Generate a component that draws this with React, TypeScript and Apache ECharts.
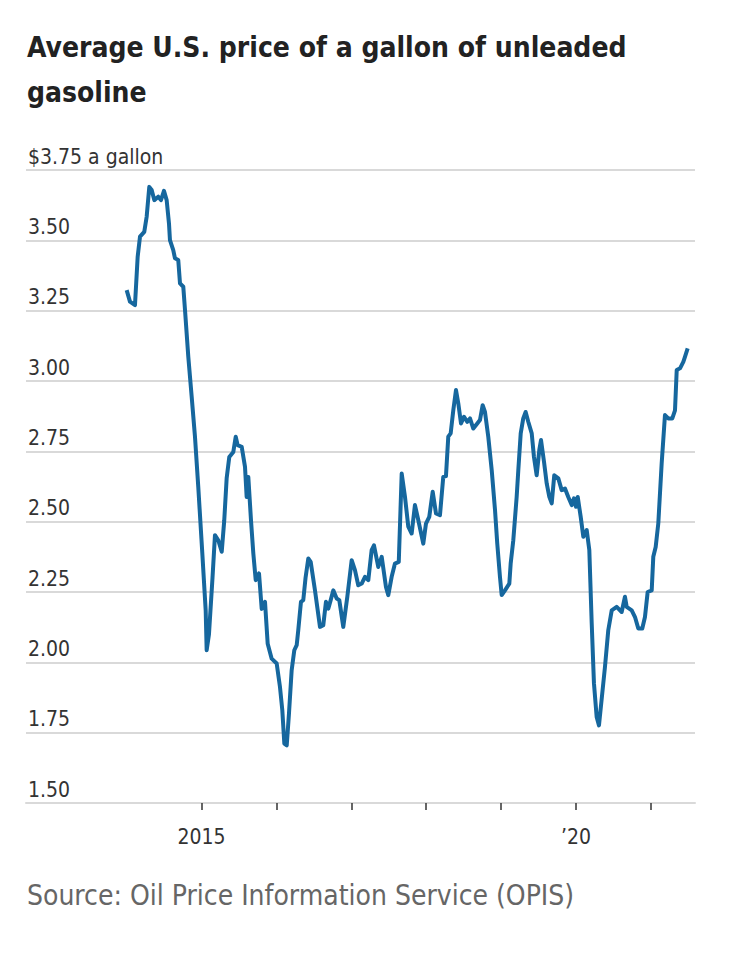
import React, { useEffect, useRef } from "react";
import * as echarts from "echarts";

// Decimal-year positions of the weekly readings
const years: number[] = [
  2014.001, 2014.045, 2014.112, 2014.148, 2014.179, 2014.236, 2014.268, 2014.303, 2014.335, 2014.37,
  2014.423, 2014.459, 2014.499, 2014.535, 2014.566, 2014.579, 2014.623, 2014.646, 2014.69, 2014.713,
  2014.757, 2014.78, 2014.824, 2014.869, 2014.913, 2014.957, 2015.011, 2015.056, 2015.069, 2015.1,
  2015.147, 2015.18, 2015.224, 2015.27, 2015.304, 2015.336, 2015.371, 2015.425, 2015.457, 2015.483,
  2015.537, 2015.581, 2015.603, 2015.625, 2015.661, 2015.692, 2015.724, 2015.768, 2015.804, 2015.848,
  2015.884, 2015.937, 2016.004, 2016.048, 2016.079, 2016.106, 2016.138, 2016.168, 2016.204, 2016.239,
  2016.271, 2016.292, 2016.328, 2016.359, 2016.389, 2016.426, 2016.458, 2016.515, 2016.582, 2016.626,
  2016.662, 2016.693, 2016.725, 2016.76, 2016.805, 2016.84, 2016.893, 2016.947, 2017.005, 2017.049,
  2017.093, 2017.139, 2017.183, 2017.227, 2017.272, 2017.303, 2017.36, 2017.406, 2017.463, 2017.494,
  2017.539, 2017.583, 2017.634, 2017.673, 2017.717, 2017.761, 2017.806, 2017.85, 2017.895, 2017.961,
  2017.997, 2018.041, 2018.087, 2018.131, 2018.184, 2018.228, 2018.264, 2018.295, 2018.327, 2018.362,
  2018.398, 2018.429, 2018.465, 2018.505, 2018.549, 2018.585, 2018.629, 2018.682, 2018.718, 2018.754,
  2018.785, 2018.829, 2018.875, 2018.919, 2018.949, 2018.985, 2019.008, 2019.052, 2019.11, 2019.128,
  2019.163, 2019.208, 2019.23, 2019.262, 2019.296, 2019.328, 2019.363, 2019.409, 2019.439, 2019.475,
  2019.51, 2019.533, 2019.573, 2019.609, 2019.644, 2019.676, 2019.71, 2019.764, 2019.809, 2019.853,
  2019.897, 2019.943, 2019.973, 2020.0, 2020.023, 2020.063, 2020.098, 2020.143, 2020.178, 2020.21,
  2020.24, 2020.276, 2020.307, 2020.387, 2020.431, 2020.477, 2020.543, 2020.61, 2020.654, 2020.677,
  2020.744, 2020.788, 2020.832, 2020.885, 2020.921, 2020.957, 2021.011, 2021.032, 2021.064, 2021.099,
  2021.144, 2021.188, 2021.232, 2021.286, 2021.322, 2021.345, 2021.389, 2021.433, 2021.455, 2021.491,
];

// Average price, dollars per gallon
const prices: number[] = [
  3.323, 3.282, 3.27, 3.442, 3.513, 3.53, 3.584, 3.69, 3.679, 3.643,
  3.655, 3.643, 3.676, 3.643, 3.56, 3.501, 3.465, 3.436, 3.43, 3.347,
  3.335, 3.252, 3.086, 2.944, 2.802, 2.624, 2.387, 2.185, 2.043, 2.1,
  2.3, 2.452, 2.434, 2.393, 2.505, 2.654, 2.73, 2.748, 2.802, 2.772,
  2.766, 2.695, 2.588, 2.659, 2.505, 2.387, 2.292, 2.316, 2.19, 2.215,
  2.066, 2.013, 1.996, 1.912, 1.83, 1.711, 1.705, 1.818, 1.972, 2.043,
  2.061, 2.114, 2.215, 2.221, 2.3, 2.369, 2.357, 2.256, 2.126, 2.132,
  2.215, 2.191, 2.221, 2.256, 2.227, 2.221, 2.126, 2.233, 2.363, 2.328,
  2.274, 2.28, 2.304, 2.292, 2.399, 2.416, 2.339, 2.375, 2.268, 2.239,
  2.304, 2.351, 2.357, 2.671, 2.588, 2.482, 2.458, 2.559, 2.505, 2.422,
  2.493, 2.517, 2.606, 2.529, 2.523, 2.659, 2.662, 2.802, 2.814, 2.896,
  2.968, 2.92, 2.849, 2.873, 2.855, 2.867, 2.831, 2.849, 2.861, 2.914,
  2.89, 2.802, 2.683, 2.541, 2.422, 2.304, 2.239, 2.256, 2.28, 2.351,
  2.434, 2.588, 2.683, 2.814, 2.867, 2.89, 2.855, 2.814, 2.73, 2.665,
  2.754, 2.79, 2.713, 2.636, 2.588, 2.565, 2.665, 2.654, 2.612, 2.618,
  2.588, 2.559, 2.583, 2.553, 2.588, 2.517, 2.446, 2.47, 2.399, 2.138,
  1.925, 1.806, 1.776, 1.984, 2.114, 2.185, 2.197, 2.179, 2.233, 2.197,
  2.185, 2.161, 2.12, 2.12, 2.161, 2.25, 2.256, 2.375, 2.41, 2.494,
  2.707, 2.879, 2.867, 2.867, 2.896, 3.039, 3.045, 3.068, 3.086, 3.116,
];

const yearTicks: number[] = [2015, 2016, 2017, 2018, 2019, 2020, 2021];
const yearLabels: number[] = [2015, 2020];

const FONT = "'Liberation Sans Narrow', 'DejaVu Sans Condensed', 'Roboto', sans-serif";

export default function App() {
  const ref = useRef<HTMLDivElement>(null);

  useEffect(() => {
    document.body.style.margin = "0";
    if (!ref.current) return;
    const chart = echarts.init(ref.current, undefined, { renderer: "svg" });
    const data = years.map((y, i) => [y, prices[i]]);
    chart.setOption({
      animation: false,
      backgroundColor: "#ffffff",
      title: [
        {
          text: "Average U.S. price of a gallon of unleaded\ngasoline",
          left: 22,
          top: 20,
          textStyle: {
            fontFamily: FONT,
            fontWeight: "bold",
            fontSize: 28,
            lineHeight: 45,
            color: "#222222",
          },
        },
        {
          text: "Source: Oil Price Information Service (OPIS)",
          left: 22,
          top: 876,
          textStyle: {
            fontFamily: FONT,
            fontWeight: "normal",
            fontSize: 28,
            color: "#666666",
          },
        },
      ],
      grid: { left: 26, right: 47, top: 170, bottom: 151, containLabel: false },
      xAxis: {
        type: "value",
        min: 2012.657,
        max: 2021.589,
        splitLine: { show: false },
        axisLine: { show: true, lineStyle: { color: "#d9d9d9", width: 2 } },
        axisTick: {
          show: true,
          customValues: yearTicks,
          length: 7,
          lineStyle: { color: "#333333", width: 1.5 },
        },
        axisLabel: {
          customValues: yearLabels,
          formatter: (v: number) => (v === 2015 ? "2015" : "\u201920"),
          fontFamily: FONT,
          fontSize: 21,
          color: "#333333",
          margin: 23,
        },
      },
      yAxis: {
        type: "value",
        min: 1.5,
        max: 3.75,
        interval: 0.25,
        axisLine: { show: false },
        axisTick: { show: false },
        splitLine: { show: true, lineStyle: { color: "#d9d9d9", width: 2 } },
        axisLabel: {
          inside: true,
          margin: 2,
          verticalAlign: "bottom",
          align: "left",
          padding: [0, 0, 3, 0],
          fontFamily: FONT,
          fontSize: 21,
          color: "#333333",
          formatter: (v: number) => (Math.abs(v - 3.75) < 1e-6 ? "$3.75 a gallon" : v.toFixed(2)),
        },
      },
      series: [
        {
          type: "line",
          data,
          showSymbol: false,
          smooth: false,
          lineStyle: { color: "#16679e", width: 4, join: "round" },
          z: 3,
        },
      ],
    });
    return () => chart.dispose();
  }, []);

  return <div ref={ref} style={{ width: 742, height: 954 }} />;
}
